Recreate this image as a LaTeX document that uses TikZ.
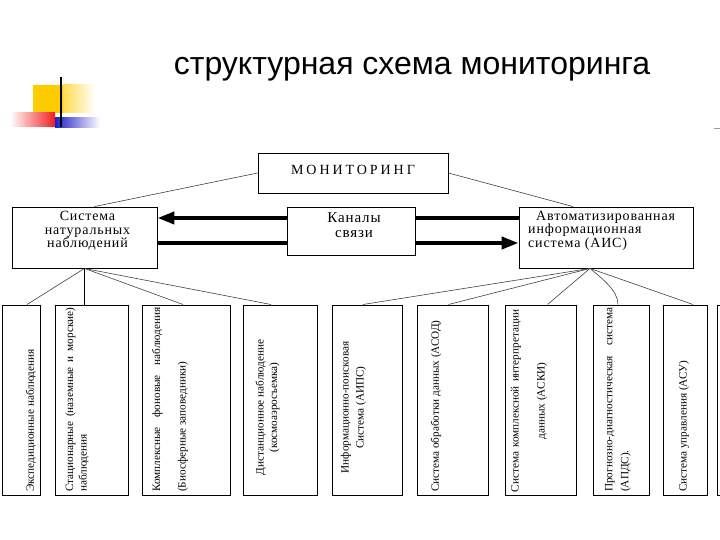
\documentclass[tikz,border=0pt]{standalone}
\usepackage{fontspec}
\setmainfont{Liberation Serif}
\newfontfamily\titlefont{Liberation Sans}
\newfontfamily\spacedfont[LetterSpace=6]{Liberation Serif}
\newfontfamily\capsfont[LetterSpace=21]{Liberation Serif}
\usetikzlibrary{arrows.meta}

\definecolor{logoyellow}{RGB}{255,204,0}
\definecolor{logored}{RGB}{240,30,30}
\definecolor{logoblue}{RGB}{30,30,200}

\tikzset{
  topbox/.style={draw, line width=0.9pt, inner sep=0pt},
  cell/.style={draw, line width=1pt, minimum height=190pt, inner sep=0pt},
  boxtext/.style={font=\spacedfont\fontsize{14}{13.5}\selectfont, inner sep=0pt},
  vtext/.style={rotate=90, font=\fontsize{11.2}{13.5}\selectfont, inner sep=0pt},
  link/.style={draw=black!75, line width=0.6pt},
  heavy/.style={line width=4pt},
  heavyarrow/.style={line width=4pt, -{Triangle[length=17pt,width=12pt]}},
}

\begin{document}
\begin{tikzpicture}[x=1pt, y=-1pt]
    \useasboundingbox (0,0) rectangle (720,540);
    \clip (0,0) rectangle (720,540);

    % logo
    \fill[logoyellow] (33,85) rectangle (63,113);
    \shade[left color=logoyellow!70, right color=white] (63,85) rectangle (95,113);
    \shade[left color=white, right color=logored] (10,113) rectangle (55,127);
    \shade[left color=logoblue, right color=white] (55,118) rectangle (100,128);
    \draw[line width=2.5pt] (61,77) -- (61,127);
    \draw[black!40, line width=0.8pt] (714,128) -- (720,128);

    % title
    \node[font=\titlefont\fontsize{32}{36}\selectfont] (title) at (412,69)
        {структурная схема мониторинга};

    % top row
    \node[topbox, minimum width=190pt, minimum height=40pt] (mon) at (353,173) {};
    \node[font=\capsfont\fontsize{14}{16}\selectfont, inner sep=0pt] (monT)
        at ([yshift=3.5pt]mon.center) {МОНИТОРИНГ};

    \node[topbox, minimum width=145pt, minimum height=61pt] (nat) at (84.5,237.5) {};
    \node[boxtext, align=center] (natT) at ([xshift=3pt, yshift=6.5pt]nat.center)
        {Система\\натуральных\\наблюдений};

    \node[topbox, minimum width=128pt, minimum height=48pt] (kan) at (351,231) {};
    \node[boxtext, align=center, font=\spacedfont\fontsize{15}{15}\selectfont] (kanT)
        at ([xshift=3pt, yshift=5.5pt]kan.center) {Каналы\\связи};

    \node[topbox, minimum width=174pt, minimum height=61pt] (ais) at (606,237.5) {};
    \node[boxtext, align=left, anchor=west] (aisT) at (528,230.5)
        {\hspace*{8pt}Автоматизированная\\информационная\\система (АИС)};

    % arrows through the channels
    \draw[heavyarrow] ([yshift=13pt]kan.west) -- ([yshift=13pt]kan.west -| nat.east);
    \draw[heavy] ([yshift=13pt]kan.east) -- ([yshift=13pt]kan.east -| ais.west);
    \draw[heavy] ([yshift=-12pt]kan.west) -- ([yshift=-12pt]kan.west -| nat.east);
    \draw[heavyarrow] ([yshift=-12pt]kan.east) -- ([yshift=-12pt]kan.east -| ais.west);

    \draw[link] (mon.west) -- ([xshift=10pt]nat.north);
    \draw[link] (mon.east) -- ([xshift=-33pt]ais.north);

    % bottom row
    \foreach \n/\cx/\w in {1/21/38, 2/91.5/73, 3/186/88, 4/280/74, 5/367/70,
                           6/452.5/71, 7/540.5/71, 8/621/56, 9/685/44, 10/738.5/43}
        \node[cell, minimum width=\w pt] (b\n) at (\cx,400) {};

    \node[vtext, anchor=west] (t1) at (31,492) {Экспедиционные наблюдения};
    \node[vtext, anchor=west, align=left] (t2) at (77,492)
        {\makebox[184pt][s]{Стационарные (наземные и морские)}\\наблюдения};
    \node[vtext, anchor=west, align=left] (t3) at (170,492)
        {\makebox[184pt][s]{Комплексные фоновые наблюдения}\\[12pt](Биосферные заповедники)};
    \node[vtext, align=center] (t4) at (267.5,407.5)
        {Дистанционное наблюдение\\(космоаэросъемка)};
    \node[vtext, align=center] (t5) at (353.5,407.5)
        {Информационно-поисковая\\[1.5pt]Система (АИПС)};
    \node[vtext, anchor=west] (t6) at (436,492) {Система обработки данных (АСОД)};
    \node[vtext, align=center] (t7) at (529,401)
        {\makebox[182pt][s]{Система комплексной интерпретации}\\[12.5pt]данных (АСКИ)};
    \node[vtext, anchor=west, align=left] (t8) at (618,492)
        {\makebox[184pt]{Прогнозно-диагностическая\hfill система}\\[2.5pt](АПДС).};
    \node[vtext, anchor=west] (t9) at (684,492) {Система управления (АСУ)};

    % links to the bottom row
    \foreach \n/\s in {1/6, 3/-3, 4/-9}
        \draw[link] (nat.south) -- ([xshift=\s pt]b\n.north);
    \draw[line width=1.5pt] (nat.south) -- (nat.south |- b2.north);

    \coordinate (hubA) at ([xshift=-16pt]ais.south);
    \foreach \n/\s in {5/-4, 6/-4, 7/7, 9/8}
        \draw[link] (hubA) -- ([xshift=\s pt]b\n.north);
    \draw[link] (hubA) .. controls +(12,10) and +(0,-14) .. ([xshift=-3pt]b8.north);
\end{tikzpicture}
\end{document}
